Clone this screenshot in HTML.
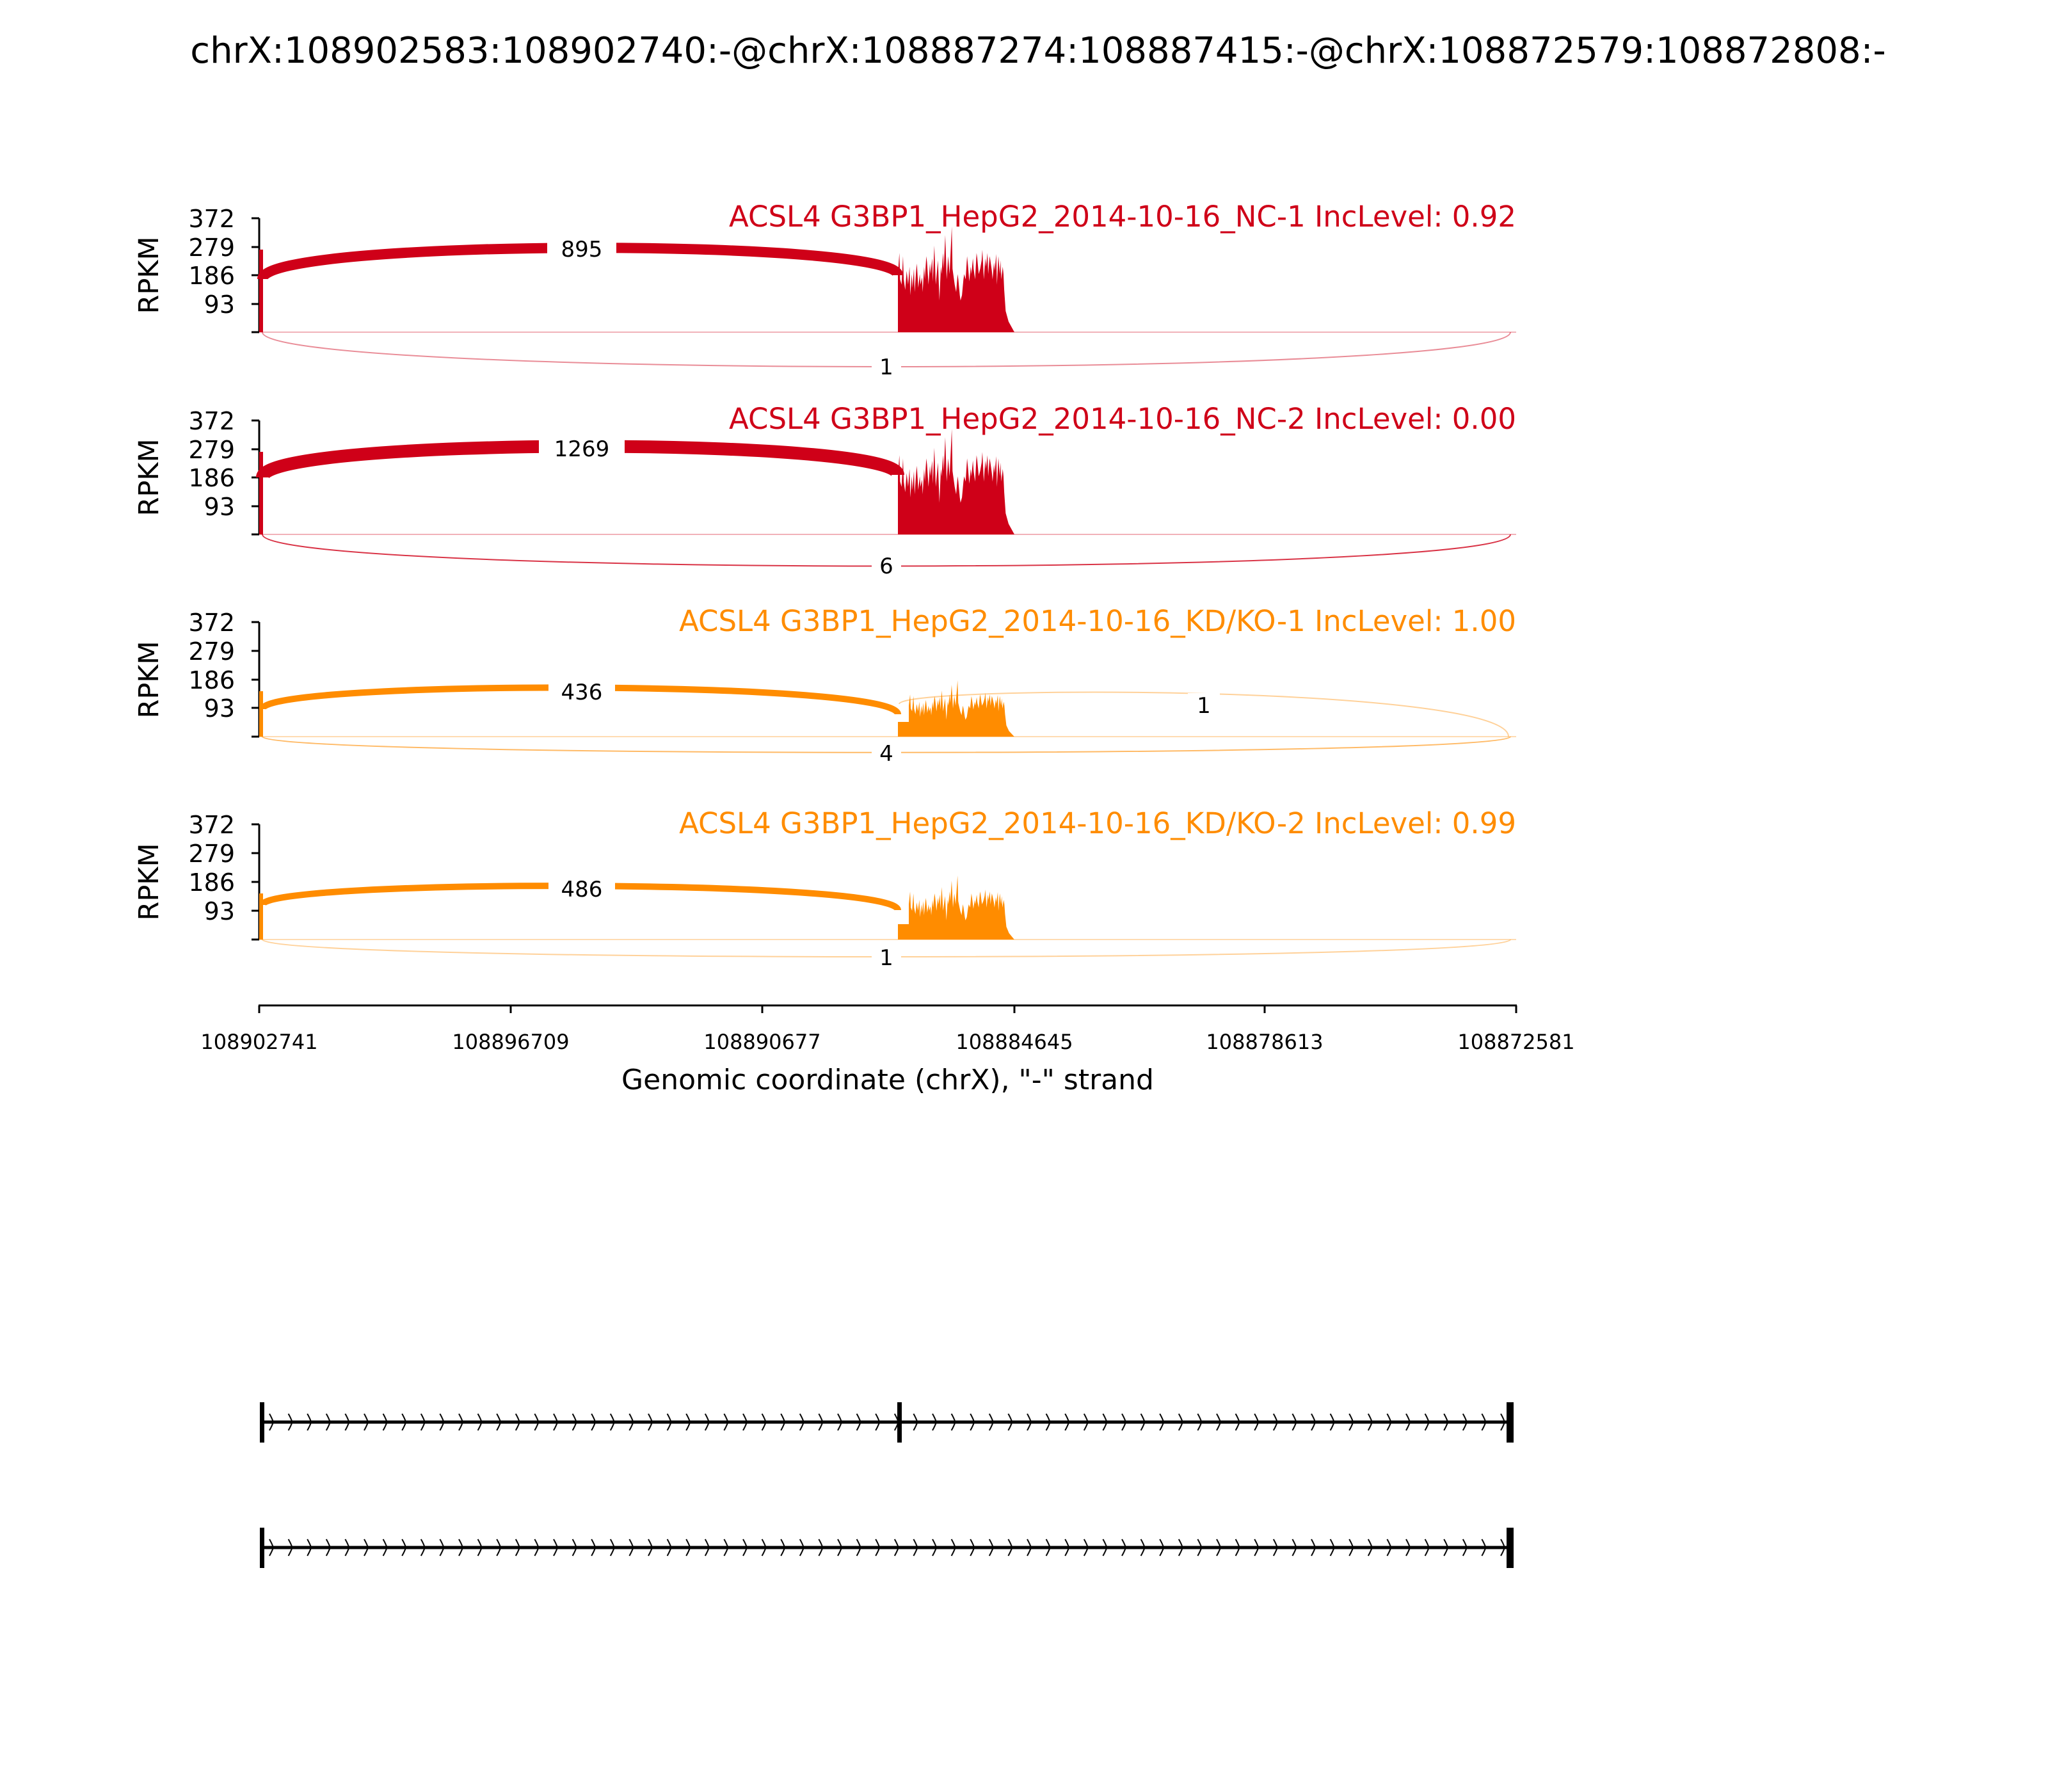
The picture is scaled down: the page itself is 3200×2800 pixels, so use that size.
<!DOCTYPE html>
<html><head><meta charset="utf-8"><style>
html,body{margin:0;padding:0;background:#fff;}
svg{display:block;font-family:"DejaVu Sans","Liberation Sans",sans-serif;}
</style></head><body>
<svg width="3200" height="2800" viewBox="0 0 3200 2800" xmlns="http://www.w3.org/2000/svg">
<defs>
<path id="cov" d="M0 0 L0 0.55 L2 0.75 L3 0.5 L5 0.45 L7 0.72 L8 0.5 L10 0.4 L12 0.58 L14 0.45 L16 0.62 L17 0.35 L19 0.55 L20 0.42 L22 0.6 L23 0.38 L25 0.58 L26 0.65 L28 0.42 L30 0.55 L31 0.45 L33 0.52 L34 0.38 L36 0.62 L37 0.5 L39 0.72 L40 0.66 L42 0.45 L44 0.65 L45 0.55 L47 0.7 L48 0.48 L50 0.82 L52 0.45 L54 0.6 L55 0.68 L57 0.3 L59 0.62 L60 0.55 L62 0.75 L63 0.6 L65 0.92 L67 0.5 L69 0.72 L71 0.55 L73 0.85 L74 1.0 L75 0.6 L76 0.55 L78 0.45 L80 0.38 L82 0.55 L83 0.5 L85 0.35 L86 0.3 L88 0.35 L90 0.5 L91 0.55 L93 0.5 L95 0.72 L96 0.65 L98 0.48 L100 0.62 L101 0.55 L103 0.7 L104 0.6 L106 0.5 L108 0.75 L109 0.7 L111 0.55 L113 0.6 L115 0.68 L116 0.78 L118 0.5 L120 0.7 L121 0.62 L123 0.75 L124 0.55 L126 0.72 L127 0.68 L129 0.58 L130 0.5 L132 0.66 L133 0.58 L135 0.74 L136 0.45 L138 0.72 L140 0.55 L141 0.68 L142 0.5 L144 0.62 L145 0.55 L146 0.4 L148 0.2 L152 0.1 L156 0.05 L160 0 Z"/>
<pattern id="chev" x="409" y="0" width="29.6" height="2800" patternUnits="userSpaceOnUse">
<path d="M12 -13 Q16 -6 18 0 Q16 6 12 13" transform="translate(0,2222)" fill="none" stroke="#000" stroke-width="2"/>
<path d="M12 -13 Q16 -6 18 0 Q16 6 12 13" transform="translate(0,2418)" fill="none" stroke="#000" stroke-width="2"/>
</pattern>
</defs>

<text x="1622" y="98" font-size="56" text-anchor="middle">chrX:108902583:108902740:-@chrX:108887274:108887415:-@chrX:108872579:108872808:-</text>

<!-- Panel 1 -->
<g>
<text x="2369" y="354" font-size="45" text-anchor="end" fill="#cf0018">ACSL4 G3BP1_HepG2_2014-10-16_NC-1 IncLevel: 0.92</text>
<line x1="405" y1="341" x2="405" y2="519" stroke="#000" stroke-width="3"/>
<g stroke="#000" stroke-width="3"><line x1="393" y1="341" x2="405" y2="341"/><line x1="393" y1="386" x2="405" y2="386"/><line x1="393" y1="430" x2="405" y2="430"/><line x1="393" y1="475" x2="405" y2="475"/><line x1="393" y1="519" x2="405" y2="519"/></g>
<g font-size="38" text-anchor="end"><text x="367" y="355">372</text><text x="367" y="400">279</text><text x="367" y="444">186</text><text x="367" y="489">93</text></g>
<text transform="translate(247,430) rotate(-90)" font-size="43" text-anchor="middle">RPKM</text>
<line x1="405" y1="519" x2="2369" y2="519" stroke="#cf0018" stroke-opacity="0.3" stroke-width="2"/>
<rect x="405" y="390" width="6" height="129" fill="#cf0018"/>
<use href="#cov" transform="translate(1403,519) scale(1.1375,-165)" fill="#cf0018"/>
<path d="M410 436 C410 372, 1403 372, 1403 430" fill="none" stroke="#cf0018" stroke-width="16"/>
<rect x="855" y="368" width="108" height="42" fill="#fff"/>
<text x="909" y="401" font-size="34" text-anchor="middle">895</text>
<path d="M410 519 C410 591, 2360 591, 2360 519" fill="none" stroke="#cf0018" stroke-opacity="0.45" stroke-width="2"/>
<rect x="1362" y="553" width="46" height="40" fill="#fff"/>
<text x="1385" y="585" font-size="34" text-anchor="middle">1</text>
</g>

<!-- Panel 2 -->
<g>
<text x="2369" y="670" font-size="45" text-anchor="end" fill="#cf0018">ACSL4 G3BP1_HepG2_2014-10-16_NC-2 IncLevel: 0.00</text>
<line x1="405" y1="657" x2="405" y2="835" stroke="#000" stroke-width="3"/>
<g stroke="#000" stroke-width="3"><line x1="393" y1="657" x2="405" y2="657"/><line x1="393" y1="702" x2="405" y2="702"/><line x1="393" y1="746" x2="405" y2="746"/><line x1="393" y1="791" x2="405" y2="791"/><line x1="393" y1="835" x2="405" y2="835"/></g>
<g font-size="38" text-anchor="end"><text x="367" y="671">372</text><text x="367" y="716">279</text><text x="367" y="760">186</text><text x="367" y="805">93</text></g>
<text transform="translate(247,746) rotate(-90)" font-size="43" text-anchor="middle">RPKM</text>
<line x1="405" y1="835" x2="2369" y2="835" stroke="#cf0018" stroke-opacity="0.3" stroke-width="2"/>
<rect x="405" y="706" width="6" height="129" fill="#cf0018"/>
<use href="#cov" transform="translate(1403,835) scale(1.1375,-165)" fill="#cf0018"/>
<path d="M410 746 C410 682, 1403 682, 1403 742" fill="none" stroke="#cf0018" stroke-width="20"/>
<rect x="842" y="680" width="134" height="42" fill="#fff"/>
<text x="909" y="713" font-size="34" text-anchor="middle">1269</text>
<path d="M410 835 C410 901, 2360 901, 2360 835" fill="none" stroke="#cf0018" stroke-opacity="0.8" stroke-width="2"/>
<rect x="1362" y="864" width="46" height="40" fill="#fff"/>
<text x="1385" y="896" font-size="34" text-anchor="middle">6</text>
</g>

<!-- Panel 3 -->
<g>
<text x="2369" y="986" font-size="45" text-anchor="end" fill="#ff8c00">ACSL4 G3BP1_HepG2_2014-10-16_KD/KO-1 IncLevel: 1.00</text>
<line x1="405" y1="972" x2="405" y2="1151" stroke="#000" stroke-width="3"/>
<g stroke="#000" stroke-width="3"><line x1="393" y1="972" x2="405" y2="972"/><line x1="393" y1="1017" x2="405" y2="1017"/><line x1="393" y1="1062" x2="405" y2="1062"/><line x1="393" y1="1106" x2="405" y2="1106"/><line x1="393" y1="1151" x2="405" y2="1151"/></g>
<g font-size="38" text-anchor="end"><text x="367" y="986">372</text><text x="367" y="1031">279</text><text x="367" y="1076">186</text><text x="367" y="1120">93</text></g>
<text transform="translate(247,1062) rotate(-90)" font-size="43" text-anchor="middle">RPKM</text>
<line x1="405" y1="1151" x2="2369" y2="1151" stroke="#ff8c00" stroke-opacity="0.3" stroke-width="2"/>
<rect x="405" y="1080" width="6" height="71" fill="#ff8c00"/>
<rect x="1403" y="1128" width="20" height="23" fill="#ff8c00"/>
<use href="#cov" transform="translate(1420,1151) scale(1.03,-88)" fill="#ff8c00"/>
<path d="M410 1108 C410 1062, 1403 1062, 1403 1116" fill="none" stroke="#ff8c00" stroke-width="10"/>
<rect x="857" y="1060" width="104" height="42" fill="#fff"/>
<text x="909" y="1093" font-size="34" text-anchor="middle">436</text>
<path d="M1405 1100 C1405 1070, 2357 1070, 2357 1151" fill="none" stroke="#ff8c00" stroke-opacity="0.4" stroke-width="2"/>
<rect x="1856" y="1083" width="50" height="40" fill="#fff"/>
<text x="1881" y="1114" font-size="34" text-anchor="middle">1</text>
<path d="M410 1151 C410 1184, 2360 1184, 2360 1151" fill="none" stroke="#ff8c00" stroke-opacity="0.6" stroke-width="2"/>
<rect x="1362" y="1157" width="46" height="40" fill="#fff"/>
<text x="1385" y="1189" font-size="34" text-anchor="middle">4</text>
</g>

<!-- Panel 4 -->
<g>
<text x="2369" y="1302" font-size="45" text-anchor="end" fill="#ff8c00">ACSL4 G3BP1_HepG2_2014-10-16_KD/KO-2 IncLevel: 0.99</text>
<line x1="405" y1="1288" x2="405" y2="1468" stroke="#000" stroke-width="3"/>
<g stroke="#000" stroke-width="3"><line x1="393" y1="1288" x2="405" y2="1288"/><line x1="393" y1="1333" x2="405" y2="1333"/><line x1="393" y1="1378" x2="405" y2="1378"/><line x1="393" y1="1423" x2="405" y2="1423"/><line x1="393" y1="1468" x2="405" y2="1468"/></g>
<g font-size="38" text-anchor="end"><text x="367" y="1302">372</text><text x="367" y="1347">279</text><text x="367" y="1392">186</text><text x="367" y="1437">93</text></g>
<text transform="translate(247,1378) rotate(-90)" font-size="43" text-anchor="middle">RPKM</text>
<line x1="405" y1="1468" x2="2369" y2="1468" stroke="#ff8c00" stroke-opacity="0.3" stroke-width="2"/>
<rect x="405" y="1396" width="6" height="72" fill="#ff8c00"/>
<rect x="1403" y="1444" width="20" height="24" fill="#ff8c00"/>
<use href="#cov" transform="translate(1420,1468) scale(1.03,-100)" fill="#ff8c00"/>
<path d="M410 1414 C410 1373, 1403 1373, 1403 1422" fill="none" stroke="#ff8c00" stroke-width="10"/>
<rect x="857" y="1368" width="104" height="42" fill="#fff"/>
<text x="909" y="1401" font-size="34" text-anchor="middle">486</text>
<path d="M410 1468 C410 1504, 2360 1504, 2360 1468" fill="none" stroke="#ff8c00" stroke-opacity="0.4" stroke-width="2"/>
<rect x="1362" y="1476" width="46" height="40" fill="#fff"/>
<text x="1385" y="1508" font-size="34" text-anchor="middle">1</text>
</g>

<!-- X axis -->
<line x1="404" y1="1571" x2="2370" y2="1571" stroke="#000" stroke-width="3"/>
<g stroke="#000" stroke-width="3">
<line x1="405" y1="1571" x2="405" y2="1583"/><line x1="798" y1="1571" x2="798" y2="1583"/><line x1="1191" y1="1571" x2="1191" y2="1583"/><line x1="1585" y1="1571" x2="1585" y2="1583"/><line x1="1976" y1="1571" x2="1976" y2="1583"/><line x1="2369" y1="1571" x2="2369" y2="1583"/>
</g>
<g font-size="32" text-anchor="middle">
<text x="405" y="1639">108902741</text><text x="798" y="1639">108896709</text><text x="1191" y="1639">108890677</text><text x="1585" y="1639">108884645</text><text x="1976" y="1639">108878613</text><text x="2369" y="1639">108872581</text>
</g>
<text x="1387" y="1702" font-size="44" text-anchor="middle">Genomic coordinate (chrX), "-" strand</text>

<!-- Gene models -->
<line x1="409" y1="2222" x2="2361" y2="2222" stroke="#000" stroke-width="5"/>
<line x1="409" y1="2418" x2="2361" y2="2418" stroke="#000" stroke-width="5"/>
<rect x="409" y="2190" width="1945" height="70" fill="url(#chev)"/>
<rect x="409" y="2386" width="1945" height="70" fill="url(#chev)"/>
<rect x="406" y="2191" width="7" height="63" fill="#000"/>
<rect x="1402" y="2191" width="7" height="63" fill="#000"/>
<rect x="2354" y="2191" width="11" height="63" fill="#000"/>
<rect x="406" y="2387" width="7" height="63" fill="#000"/>
<rect x="2354" y="2387" width="11" height="63" fill="#000"/>
</svg>
</body></html>
